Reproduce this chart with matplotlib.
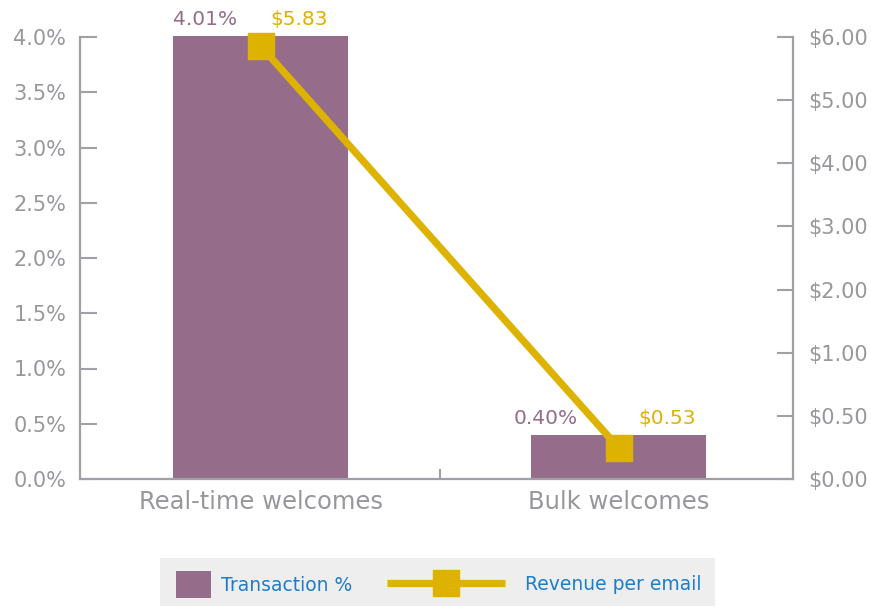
import numpy as np
import matplotlib
matplotlib.use("Agg")
import matplotlib.pyplot as plt
from matplotlib.patches import Rectangle

# ---- data ----
categories = ["Real-time welcomes", "Bulk welcomes"]
transaction_pct = [4.01, 0.40]
revenue_per_email = [5.83, 0.53]
pct_labels = ["4.01%", "0.40%"]
rev_labels = ["$5.83", "$0.53"]
left_ticks = [0.0, 0.5, 1.0, 1.5, 2.0, 2.5, 3.0, 3.5, 4.0]
left_ticklabels = ["0.0%", "0.5%", "1.0%", "1.5%", "2.0%", "2.5%", "3.0%", "3.5%", "4.0%"]
right_ticklabels = ["$0.00", "$0.50", "$1.00", "$2.00", "$3.00", "$4.00", "$5.00", "$6.00"]

# ---- style ----
BAR = "#956d8a"
GOLD = "#ddb200"
AXC = "#a0a0a5"
TXT = "#98989c"
BLUE = "#1e7dc8"
plt.rcParams["font.family"] = ["DejaVu Sans"]

W, H = 871, 607
fig = plt.figure(figsize=(W / 100, H / 100), dpi=100)
L, R, T, B = 80, 793, 37, 479
ax = fig.add_axes([L / W, 1 - B / H, (R - L) / W, (B - T) / H])
ax2 = ax.twinx()

x = np.arange(len(categories))
ax.bar(x, transaction_pct, width=0.489, color=BAR, clip_on=False, zorder=2)
ax.set_xlim(-0.505, 1.487)
ax.set_ylim(0, 4.0)
ax.set_yticks(left_ticks)
ax.set_yticklabels(left_ticklabels)
ax.set_xticks(x)
ax.set_xticklabels(categories)
ax.set_xticks([0.5], minor=True)

line, = ax2.plot(x, revenue_per_email, color=GOLD, lw=5.2, marker="s", ms=19,
                 mec=GOLD, mfc=GOLD, solid_capstyle="butt", clip_on=False, zorder=3)
lo, hi = 0.12, 5.95
ax2.set_ylim(lo, hi)
ax2.set_yticks(np.linspace(lo, hi, len(right_ticklabels)))
ax2.set_yticklabels(right_ticklabels)

for a in (ax, ax2):
    a.spines["top"].set_visible(False)
    for s in a.spines.values():
        s.set_color(AXC)
        s.set_linewidth(1.6)
ax2.spines["left"].set_visible(False)
ax2.spines["bottom"].set_visible(False)
ax.spines["right"].set_visible(False)

ax.tick_params(axis="y", direction="in", length=12, width=1.5, color=AXC,
               labelcolor=TXT, labelsize=15, pad=10)
ax2.tick_params(axis="y", direction="in", length=11.5, width=1.5, color=AXC,
                labelcolor=TXT, labelsize=15, pad=11)
ax.tick_params(axis="x", which="major", length=0, labelcolor=TXT, labelsize=17.5, pad=8)
ax.tick_params(axis="x", which="minor", direction="in", length=7, width=1.5, color=AXC)

# value labels
pct_offsets = [(-24, 16), (-41, 16)]
rev_offsets = [(10, 16), (20, 16)]
for i in range(len(categories)):
    ax.annotate(pct_labels[i], xy=(x[i], transaction_pct[i]), xytext=pct_offsets[i],
                textcoords="offset pixels", ha="right", va="center",
                color=BAR, fontsize=14.5, annotation_clip=False)
    ax.annotate(rev_labels[i], xy=(x[i], transaction_pct[i]), xytext=rev_offsets[i],
                textcoords="offset pixels", ha="left", va="center",
                color=GOLD, fontsize=14.5, annotation_clip=False)

# legend
fig.patches.append(Rectangle((160 / W, 1 - 606 / H), 555 / W, 48 / H,
                             transform=fig.transFigure, facecolor="#eeeeee",
                             edgecolor="none", zorder=0))
fs = 13.5
fpx = fs * 100 / 72
bars_handle = ax.patches[0]
leg1 = fig.legend([bars_handle], ["Transaction %"], loc="center left",
                  bbox_to_anchor=(176 / W, 1 - 584.5 / H), frameon=False,
                  borderpad=0, borderaxespad=0, fontsize=fs,
                  handlelength=35 / fpx, handleheight=35 / fpx,
                  handletextpad=10 / fpx, labelcolor=BLUE)
leg2 = fig.legend([line], ["Revenue per email"], loc="center left",
                  bbox_to_anchor=(387 / W, 1 - 584.5 / H), frameon=False,
                  borderpad=0, borderaxespad=0, fontsize=fs,
                  handlelength=118 / fpx, handletextpad=20 / fpx,
                  labelcolor=BLUE, numpoints=1)

fig.savefig("out.png", dpi=100)
